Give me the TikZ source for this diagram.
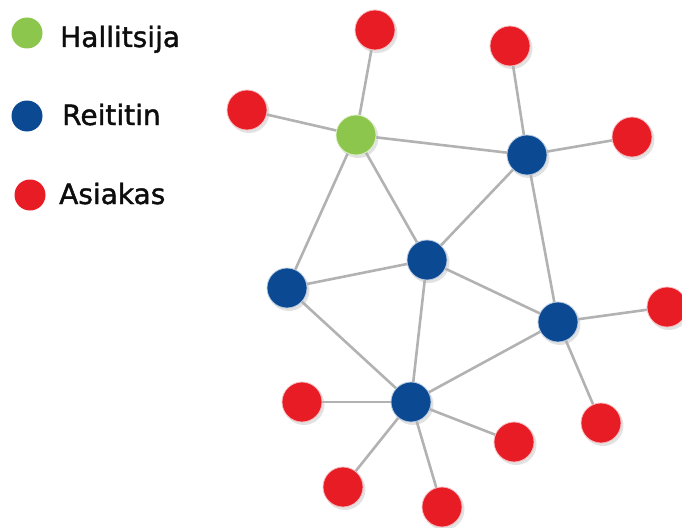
\documentclass[tikz,border=0pt]{standalone}
\usepackage{fontspec}
\setmainfont{DejaVu Sans}
\newfontfamily\legendfont[FakeBold=1.4]{DejaVu Sans}
\begin{document}
\begin{tikzpicture}[x=1pt,y=-1pt,
  link/.style={draw=black!30,line width=2.6pt},
  dot/.style={circle,minimum size=40pt,inner sep=0pt,draw=white!70!#1,line width=0.8pt,fill=#1},
  legdot/.style={circle,minimum size=31pt,inner sep=0pt,fill=#1},
  legtext/.style={anchor=base west,inner sep=0pt,font=\legendfont\fontsize{28}{32}\selectfont,text=black!95},
  shade/.style={circle,minimum size=41pt,inner sep=0pt,fill=black!25,opacity=0.45}]
\definecolor{ctrl}{HTML}{8DC64C}
\definecolor{router}{HTML}{0B4A93}
\definecolor{client}{HTML}{E81C24}
\useasboundingbox (0,0) rectangle (682,527);

% legend
\node[legdot=ctrl] (lg) at (27,33) {};
\node[legdot=router] (lb) at (27,116) {};
\node[legdot=client] (lr) at (30,195) {};
\node[legtext] (tg) at (60,47) {Hallitsija};
\node[legtext] (tb) at (62,125) {Reititin};
\node[legtext] (tr) at (59,204) {Asiakas};

% node positions
\coordinate (pG) at (356,135);
\coordinate (pB1) at (527,155);
\coordinate (pB2) at (427,260);
\coordinate (pB3) at (287,288);
\coordinate (pB4) at (558,322);
\coordinate (pB5) at (411,402);
\coordinate (pR1) at (375,30);
\coordinate (pR2) at (510,46);
\coordinate (pR3) at (247,110);
\coordinate (pR4) at (632,137);
\coordinate (pR5) at (667,307);
\coordinate (pR6) at (302,402);
\coordinate (pR7) at (601,423);
\coordinate (pR8) at (514,442);
\coordinate (pR9) at (343,487);
\coordinate (pR10) at (442,507);

% soft shadows
\foreach \p in {pG,pB1,pB2,pB3,pB4,pB5,pR1,pR2,pR3,pR4,pR5,pR6,pR7,pR8,pR9,pR10}
  \node[shade] at ([shift={(2,2.5)}]\p) {};

% links
\foreach \a/\b in {pG/pR1,pG/pR3,pG/pB1,pG/pB2,pG/pB3,
                   pB1/pR2,pB1/pR4,pB1/pB2,pB1/pB4,
                   pB2/pB3,pB2/pB4,pB2/pB5,pB3/pB5,
                   pB4/pR5,pB4/pR7,pB4/pB5,
                   pB5/pR6,pB5/pR8,pB5/pR9,pB5/pR10}
  \draw[link] (\a) -- (\b);

% nodes
\node[dot=ctrl] (G) at (pG) {};
\foreach \p in {pB1,pB2,pB3,pB4,pB5}
  \node[dot=router] (n\p) at (\p) {};
\foreach \p in {pR1,pR2,pR3,pR4,pR5,pR6,pR7,pR8,pR9,pR10}
  \node[dot=client] (n\p) at (\p) {};
\end{tikzpicture}
\end{document}
